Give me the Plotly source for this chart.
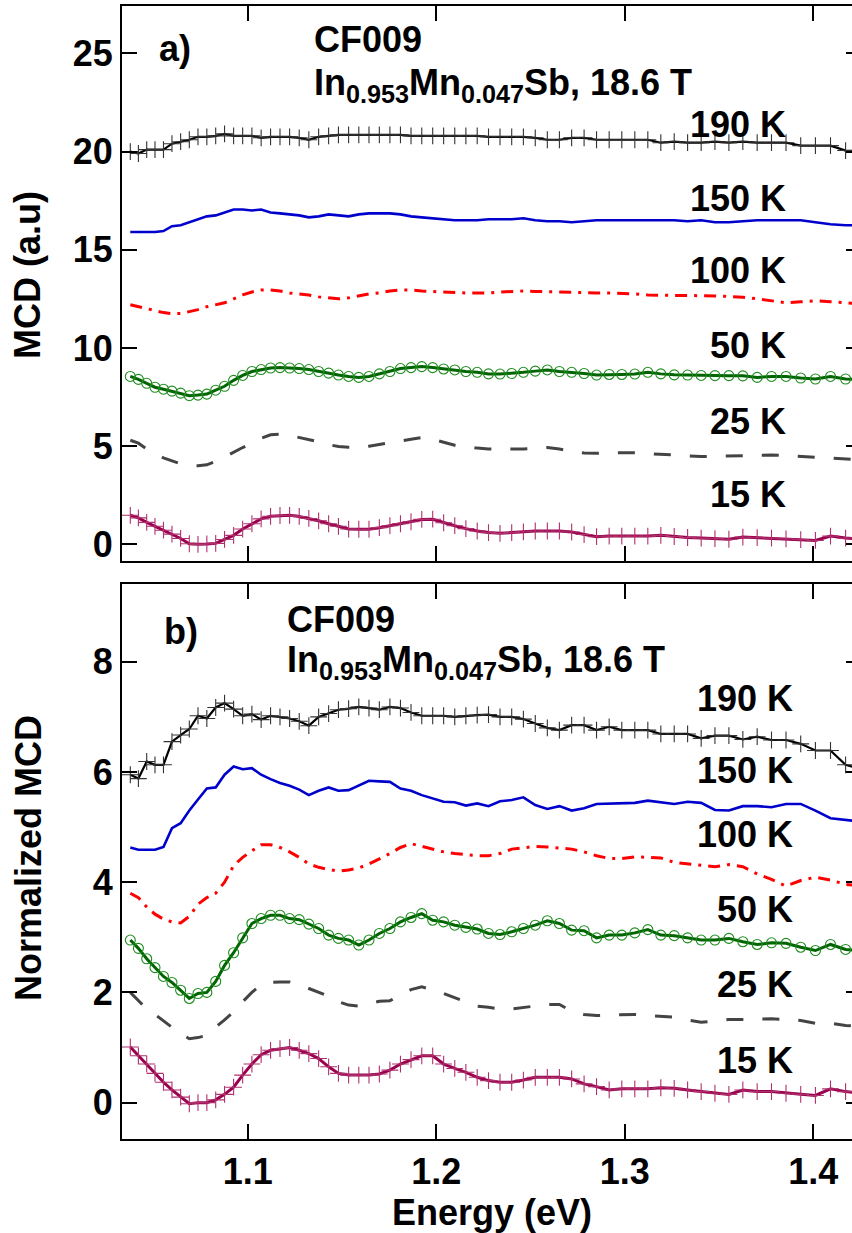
import plotly.graph_objects as go

# ---------------- data ----------------
energy = [1.0377, 1.0420, 1.0464, 1.0508, 1.0553, 1.0598, 1.0644, 1.0690, 1.0736, 1.0783,
          1.0830, 1.0877, 1.0925, 1.0973, 1.1022, 1.1071, 1.1121, 1.1171, 1.1222, 1.1273,
          1.1324, 1.1376, 1.1429, 1.1481, 1.1535, 1.1589, 1.1643, 1.1698, 1.1754, 1.1810,
          1.1866, 1.1923, 1.1981, 1.2039, 1.2098, 1.2157, 1.2217, 1.2277, 1.2338, 1.2400,
          1.2462, 1.2525, 1.2589, 1.2653, 1.2718, 1.2784, 1.2850, 1.2917, 1.2984, 1.3053,
          1.3122, 1.3191, 1.3262, 1.3333, 1.3405, 1.3478, 1.3552, 1.3626, 1.3702, 1.3778,
          1.3855, 1.3933, 1.4011, 1.4091, 1.4171, 1.4253]

# panel a) MCD (a.u.)
mcd_190K = [20.0, 19.9, 20.1, 20.1, 20.1, 20.4, 20.5, 20.6, 20.75, 20.75,
            20.8, 20.9, 20.8, 20.8, 20.8, 20.7, 20.75, 20.75, 20.75, 20.7,
            20.6, 20.75, 20.8, 20.85, 20.85, 20.85, 20.85, 20.85, 20.85, 20.85,
            20.8, 20.8, 20.8, 20.8, 20.8, 20.8, 20.8, 20.75, 20.75, 20.75,
            20.75, 20.7, 20.6, 20.6, 20.7, 20.7, 20.6, 20.6, 20.6, 20.6,
            20.6, 20.45, 20.5, 20.45, 20.45, 20.5, 20.45, 20.5, 20.45, 20.45,
            20.45, 20.3, 20.3, 20.3, 20.05, 20.0]
mcd_150K = [15.9, 15.9, 15.9, 15.9, 15.95, 16.2, 16.25, 16.4, 16.55, 16.7,
            16.75, 16.9, 17.05, 17.05, 17.0, 17.05, 16.9, 16.85, 16.8, 16.75,
            16.65, 16.7, 16.8, 16.75, 16.7, 16.8, 16.85, 16.85, 16.85, 16.8,
            16.7, 16.65, 16.6, 16.55, 16.5, 16.5, 16.5, 16.55, 16.55, 16.55,
            16.6, 16.5, 16.45, 16.45, 16.4, 16.45, 16.5, 16.5, 16.5, 16.5,
            16.5, 16.5, 16.5, 16.45, 16.5, 16.4, 16.4, 16.45, 16.5, 16.5,
            16.5, 16.5, 16.4, 16.3, 16.25, 16.25]
mcd_100K = [12.2, 12.1, 12.0, 11.9, 11.8, 11.75, 11.75, 11.85, 11.95, 12.1,
            12.2, 12.3, 12.5, 12.7, 12.85, 12.95, 12.95, 12.9, 12.8, 12.75,
            12.7, 12.6, 12.55, 12.5, 12.55, 12.65, 12.75, 12.8, 12.9, 12.95,
            12.95, 12.9, 12.87, 12.85, 12.82, 12.8, 12.8, 12.8, 12.85, 12.88,
            12.9, 12.88, 12.86, 12.85, 12.85, 12.82, 12.8, 12.8, 12.78, 12.75,
            12.7, 12.67, 12.67, 12.67, 12.67, 12.65, 12.62, 12.58, 12.5, 12.4,
            12.3, 12.35, 12.4, 12.35, 12.28, 12.25]
mcd_50K = [8.55, 8.4, 8.2, 8.0, 7.9, 7.8, 7.7, 7.57, 7.6, 7.65,
           7.85, 8.05, 8.35, 8.6, 8.8, 8.9, 8.98, 9.0, 8.98, 8.95,
           8.9, 8.8, 8.72, 8.62, 8.55, 8.5, 8.55, 8.68, 8.8, 8.95,
           9.0, 9.05, 9.0, 8.93, 8.88, 8.8, 8.76, 8.68, 8.67, 8.7,
           8.76, 8.82, 8.88, 8.8, 8.76, 8.7, 8.62, 8.65, 8.65, 8.67,
           8.76, 8.68, 8.63, 8.62, 8.6, 8.59, 8.59, 8.58, 8.5, 8.55,
           8.55, 8.47, 8.42, 8.55, 8.42, 8.4]
mcd_25K = [5.3, 5.15, 4.85, 4.6, 4.4, 4.25, 4.1, 4.02, 4.0, 4.05,
           4.22, 4.45, 4.7, 4.93, 5.15, 5.4, 5.58, 5.61, 5.55, 5.45,
           5.36, 5.22, 5.08, 4.98, 4.95, 4.93, 5.0, 5.08, 5.15, 5.25,
           5.35, 5.44, 5.35, 5.2, 5.05, 4.98, 4.9, 4.86, 4.86, 4.85,
           4.86, 4.9, 4.93, 4.85, 4.75, 4.65, 4.64, 4.66, 4.67, 4.66,
           4.62, 4.59, 4.55, 4.5, 4.47, 4.48, 4.5, 4.52, 4.54, 4.55,
           4.52, 4.48, 4.44, 4.38, 4.34, 4.3]
mcd_15K = [1.48, 1.35, 1.12, 0.92, 0.72, 0.52, 0.3, 0.03, 0.0, 0.02,
           0.05, 0.25, 0.46, 0.78, 1.05, 1.3, 1.43, 1.47, 1.48, 1.42,
           1.32, 1.2, 1.05, 0.92, 0.78, 0.77, 0.77, 0.85, 0.95, 1.05,
           1.15, 1.27, 1.28, 1.1, 0.95, 0.8, 0.68, 0.6, 0.56, 0.6,
           0.64, 0.68, 0.68, 0.68, 0.63, 0.5, 0.39, 0.42, 0.42, 0.42,
           0.42, 0.46, 0.4, 0.35, 0.32, 0.29, 0.26, 0.37, 0.34, 0.32,
           0.28, 0.24, 0.2, 0.42, 0.32, 0.28]

# panel b) normalized MCD
norm_190K = [5.95, 5.88, 6.19, 6.13, 6.13, 6.55, 6.67, 6.78, 7.02, 6.97,
             7.17, 7.25, 7.14, 7.02, 7.05, 6.95, 7.02, 7.0, 6.97, 6.92,
             6.84, 7.0, 7.06, 7.13, 7.15, 7.18, 7.16, 7.13, 7.18, 7.16,
             7.08, 7.02, 7.02, 7.02, 7.0, 7.02, 7.03, 7.04, 7.0, 7.0,
             6.96, 6.88, 6.8, 6.76, 6.85, 6.85, 6.76, 6.82, 6.76, 6.76,
             6.76, 6.69, 6.69, 6.69, 6.61, 6.66, 6.66, 6.59, 6.64, 6.58,
             6.58, 6.51, 6.39, 6.39, 6.13, 6.05]
norm_150K = [4.63, 4.59, 4.59, 4.59, 4.64, 4.98, 5.07, 5.3, 5.5, 5.7,
             5.72, 5.95, 6.1, 6.05, 6.07, 5.95, 5.87, 5.8, 5.75, 5.68,
             5.58, 5.66, 5.72, 5.66, 5.67, 5.76, 5.84, 5.83, 5.82, 5.7,
             5.66, 5.58, 5.52, 5.46, 5.45, 5.39, 5.43, 5.38, 5.47, 5.49,
             5.54, 5.4, 5.33, 5.38, 5.3, 5.34, 5.42, 5.43, 5.44, 5.44,
             5.48, 5.45, 5.42, 5.46, 5.44, 5.31, 5.3, 5.38, 5.38, 5.36,
             5.42, 5.42, 5.3, 5.16, 5.13, 5.1]
norm_100K = [3.8, 3.72, 3.55, 3.42, 3.33, 3.28, 3.26, 3.38, 3.6, 3.72,
             3.8, 4.0, 4.3, 4.45, 4.57, 4.68, 4.68, 4.63, 4.55, 4.45,
             4.33, 4.27, 4.23, 4.2, 4.22, 4.26, 4.33, 4.42, 4.52, 4.63,
             4.7, 4.65, 4.6, 4.55, 4.52, 4.5, 4.48, 4.48, 4.52, 4.6,
             4.62, 4.65, 4.64, 4.62, 4.6, 4.55, 4.48, 4.43, 4.43, 4.46,
             4.45, 4.44, 4.36, 4.33, 4.3, 4.28, 4.32, 4.28, 4.15, 4.05,
             3.93, 4.03, 4.09, 4.04, 3.96, 3.93]
norm_50K = [2.95, 2.8, 2.61, 2.45, 2.29, 2.18, 2.04, 1.89, 1.98, 2.0,
            2.2, 2.49, 2.72, 2.99, 3.25, 3.34, 3.4, 3.4, 3.34, 3.32,
            3.24, 3.16, 3.04, 2.98, 2.95, 2.86, 2.95, 3.07, 3.16, 3.28,
            3.36, 3.43, 3.31, 3.28, 3.22, 3.18, 3.15, 3.07, 3.05, 3.1,
            3.16, 3.22, 3.3, 3.25, 3.13, 3.12, 2.99, 3.04, 3.04, 3.08,
            3.14, 3.04, 3.03, 2.99, 2.95, 2.95, 2.98, 2.92, 2.87, 2.9,
            2.89, 2.82, 2.76, 2.87, 2.78, 2.76]
norm_25K = [2.0, 1.85, 1.7, 1.6, 1.48, 1.36, 1.25, 1.16, 1.18, 1.22,
            1.37, 1.5, 1.65, 1.83, 2.0, 2.14, 2.18, 2.19, 2.19, 2.14,
            2.07, 2.0, 1.93, 1.83, 1.77, 1.75, 1.8, 1.84, 1.85, 1.95,
            2.05, 2.1, 2.05, 1.98, 1.9, 1.82, 1.75, 1.73, 1.7, 1.7,
            1.73, 1.76, 1.78, 1.78, 1.66, 1.6, 1.58, 1.59, 1.6, 1.6,
            1.58, 1.56, 1.55, 1.5, 1.46, 1.48, 1.51, 1.51, 1.52, 1.52,
            1.51, 1.49, 1.44, 1.44, 1.4, 1.38]
norm_15K = [1.01, 0.85, 0.7, 0.53, 0.37, 0.23, 0.1, -0.02, 0.0, 0.0,
            0.05, 0.15, 0.28, 0.5, 0.7, 0.87, 0.95, 0.98, 1.0, 0.95,
            0.89, 0.8, 0.65, 0.53, 0.5, 0.5, 0.5, 0.52, 0.59, 0.7,
            0.78, 0.85, 0.85, 0.7, 0.62, 0.55, 0.46, 0.4, 0.37, 0.37,
            0.41, 0.46, 0.46, 0.46, 0.43, 0.34, 0.29, 0.23, 0.25, 0.25,
            0.25, 0.27, 0.26, 0.23, 0.2, 0.17, 0.15, 0.23, 0.2, 0.2,
            0.17, 0.15, 0.13, 0.25, 0.2, 0.17]

temp_labels = ["190 K", "150 K", "100 K", "50 K", "25 K", "15 K"]
x_tick_vals = [1.1, 1.2, 1.3, 1.4]
x_tick_text = ["1.1", "1.2", "1.3", "1.4"]
top_y_ticks = [0, 5, 10, 15, 20, 25]
bot_y_ticks = [0, 2, 4, 6, 8]

# ---------------- styles ----------------
FONT = "Liberation Sans, Arial, sans-serif"
styles = {
    "190 K": dict(line=dict(color="black", width=2.2),
                  marker=dict(symbol="cross-thin", size=12, color="#333333",
                              line=dict(color="#333333", width=1.1)), mode="lines+markers"),
    "150 K": dict(line=dict(color="#0000CC", width=2.6), mode="lines"),
    "100 K": dict(line=dict(color="#FF0000", width=3, dash="12px,7px,3px,7px"), mode="lines"),
    "50 K": dict(line=dict(color="#006400", width=3),
                 marker=dict(symbol="circle-open", size=10, color="#1E8C1E",
                             line=dict(color="#1E8C1E", width=1.1)), mode="lines+markers"),
    "25 K": dict(line=dict(color="#444444", width=3, dash="17px,19px"), mode="lines"),
    "15 K": dict(line=dict(color="#99004D", width=3),
                 marker=dict(symbol="cross-thin", size=12, color="#B0306E",
                             line=dict(color="#B0306E", width=1.1)), mode="lines+markers"),
}

fig = go.Figure()
top_series = [mcd_190K, mcd_150K, mcd_100K, mcd_50K, mcd_25K, mcd_15K]
bot_series = [norm_190K, norm_150K, norm_100K, norm_50K, norm_25K, norm_15K]
for lab, ys in zip(temp_labels, top_series):
    fig.add_trace(go.Scatter(x=energy, y=ys, xaxis="x", yaxis="y", name=lab,
                             showlegend=False, hoverinfo="skip", **styles[lab]))
for lab, ys in zip(temp_labels, bot_series):
    fig.add_trace(go.Scatter(x=energy, y=ys, xaxis="x2", yaxis="y2", name=lab,
                             showlegend=False, hoverinfo="skip", **styles[lab]))

TICKFONT = dict(family=FONT, size=36, color="black", weight="bold")
x_common = dict(showline=True, linewidth=2, linecolor="black", mirror="ticks",
                ticks="inside", ticklen=15, tickwidth=2, tickcolor="black",
                showgrid=False, zeroline=False, tickfont=TICKFONT)
# left y axes: line + inward ticks only on the left (right edge is cut off in the original)
y_common = dict(showline=True, linewidth=2, linecolor="black", mirror=False,
                ticks="inside", ticklen=15, tickwidth=2, tickcolor="black",
                showgrid=False, zeroline=False, tickfont=TICKFONT, ticklabelstandoff=0)
# right-side short tick stubs (the frame's right edge lies just outside the picture)
y_right = dict(showline=False, ticks="inside", ticklen=6, tickwidth=2, tickcolor="black",
               showgrid=False, zeroline=False, showticklabels=False, side="right")

x_range = [1.0333, 1.4205]
top_range = [-0.85, 27.41]
bot_range = [-0.66, 9.41]
fig.update_layout(
    width=852, height=1233,
    margin=dict(l=122, r=0, t=6, b=94),
    paper_bgcolor="white", plot_bgcolor="white",
    xaxis=dict(domain=[0, 1], anchor="y", range=x_range, tickvals=x_tick_vals,
               showticklabels=False, **x_common),
    yaxis=dict(domain=[0.5101, 1], anchor="x", range=top_range,
               tickvals=top_y_ticks, **y_common),
    xaxis2=dict(domain=[0, 1], anchor="y2", range=x_range, tickvals=x_tick_vals,
                ticktext=x_tick_text, ticklabelstandoff=0, **x_common),
    yaxis2=dict(domain=[0, 0.4898], anchor="x2", range=bot_range,
                tickvals=bot_y_ticks, **y_common),
    yaxis3=dict(overlaying="y", anchor="x", range=top_range, tickvals=top_y_ticks, **y_right),
    yaxis4=dict(overlaying="y2", anchor="x2", range=bot_range, tickvals=bot_y_ticks, **y_right),
)
# empty helper traces so the right-side tick axes are drawn
fig.add_trace(go.Scatter(x=[None], y=[None], xaxis="x", yaxis="y3", showlegend=False,
                         hoverinfo="skip", mode="lines"))
fig.add_trace(go.Scatter(x=[None], y=[None], xaxis="x2", yaxis="y4", showlegend=False,
                         hoverinfo="skip", mode="lines"))

ann_font = dict(family=FONT, size=36, color="black", weight="bold")
anns = []
# panel a texts
anns.append(dict(text="a)", x=1.0616, y=25.27, xref="x", yref="y", xanchor="center", yanchor="middle"))
anns.append(dict(text="CF009", x=1.1342, y=25.68, xref="x", yref="y", xanchor="left", yanchor="middle"))
anns.append(dict(text="In<sub>0.953</sub>Mn<sub>0.047</sub>Sb, 18.6 T", x=1.1342, y=23.4,
                 xref="x", yref="y", xanchor="left", yanchor="middle"))
top_label_y = [21.36, 17.63, 13.92, 10.1, 6.28, 2.52]
for lab, yy in zip(temp_labels, top_label_y):
    anns.append(dict(text=lab, x=1.3866, y=yy, xref="x", yref="y", xanchor="right", yanchor="middle"))
# panel b texts
anns.append(dict(text="b)", x=1.0647, y=8.55, xref="x2", yref="y2", xanchor="center", yanchor="middle"))
anns.append(dict(text="CF009", x=1.1199, y=8.76, xref="x2", yref="y2", xanchor="left", yanchor="middle"))
anns.append(dict(text="In<sub>0.953</sub>Mn<sub>0.047</sub>Sb, 18.6 T", x=1.1199, y=8.0,
                 xref="x2", yref="y2", xanchor="left", yanchor="middle"))
bot_label_y = [7.33, 6.02, 4.86, 3.5, 2.15, 0.77]
for lab, yy in zip(temp_labels, bot_label_y):
    anns.append(dict(text=lab, x=1.3902, y=yy, xref="x2", yref="y2", xanchor="right", yanchor="middle"))
# axis titles
anns.append(dict(text="MCD (a.u)", x=-0.1288, y=0.7626, xref="paper", yref="paper",
                 textangle=-90, xanchor="center", yanchor="middle"))
anns.append(dict(text="Normalized MCD", x=-0.1288, y=0.248, xref="paper", yref="paper",
                 textangle=-90, xanchor="center", yanchor="middle"))
anns.append(dict(text="Energy (eV)", x=0.507, y=-0.0648, xref="paper", yref="paper",
                 xanchor="center", yanchor="middle"))
for a in anns:
    a["showarrow"] = False
    a["font"] = ann_font
fig.update_layout(annotations=anns)

fig.write_html("out.html")
